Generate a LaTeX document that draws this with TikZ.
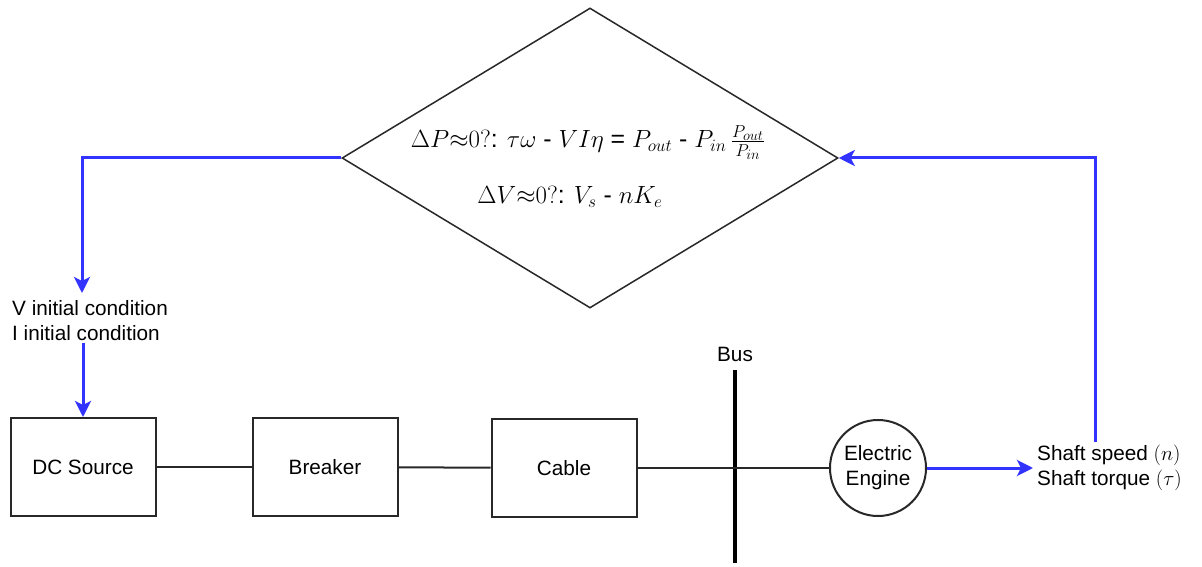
\documentclass[tikz,border=0pt]{standalone}
\usepackage[no-math]{fontspec}
\setmainfont{Liberation Sans}
\usetikzlibrary{shapes.geometric,arrows.meta}
\definecolor{flowblue}{RGB}{51,51,255}
\definecolor{edgegray}{RGB}{40,40,40}
\begin{document}
\begin{tikzpicture}[x=1pt,y=-1pt,
  blk/.style={draw=edgegray, line width=2pt, minimum width=145pt, minimum height=98pt, inner sep=0pt, font=\fontsize{20.74}{25}\selectfont},
  wire/.style={draw=edgegray, line width=2pt},
  flow/.style={draw=flowblue, line width=3pt, -{Stealth[length=16pt,width=16pt,inset=4pt]}},
  lbl/.style={font=\fontsize{20.74}{25}\selectfont, inner sep=0pt, align=left},
  eqn/.style={font=\fontsize{20.74}{26}\selectfont, inner sep=0pt, scale=1.2}]
\useasboundingbox (0,0) rectangle (1202,567);
\fill[white] (0,0) rectangle (1202,567);

% decision diamond
\node[draw=edgegray, line width=1.5pt, shape=diamond, minimum width=496pt, minimum height=300pt, inner sep=0pt] (dec) at (590,158) {};
\node[eqn] (eq1) at (588,143) {$\Delta P{\approx}0?$: $\tau\omega$ - $VI\eta$ = $P_{out}$ - $P_{in}\,\frac{P_{out}}{P_{in}}$};
\node[eqn] (eq2) at (570,197) {$\Delta V{\approx}0?$: $V_s$ - $nK_e$};

% left branch
\coordinate (lt) at (82,293);
\draw[flow] (dec.west) -| (lt);
\node[lbl, anchor=west] (init) at (12,321) {V initial condition\\I initial condition};

% chain
\node[blk] (dc) at (83,467) {DC Source};
\node[blk] (br) at (325,467) {Breaker};
\node[blk] (cab) at (564,468) {Cable};
\node[circle, draw=edgegray, line width=2pt, minimum size=96pt, inner sep=0pt, align=center, font=\fontsize{20.74}{25}\selectfont] (eng) at (878,468) {Electric\\Engine};

\draw[flow] ([yshift=-2pt]init.south -| dc.north) -- (dc.north);

% bus
\coordinate (bt) at (735,370);
\coordinate (bb) at (735,563);
\draw[black, line width=4pt] (bt) -- (bb);
\node[lbl] (bus) at (735,354) {Bus};

\draw[wire] (dc) -- (br);
\draw[wire] (br) -- (cab);
\draw[wire] (cab.east) -- (eng.west);

% shaft outputs
\node[lbl, anchor=west] (shaft) at (1037,468) {Shaft speed $(n)$\\Shaft torque $(\tau)$};
\draw[flow, shorten >=4pt] (eng.east) -- (shaft.west);
\coordinate (fb) at (1095,442);
\draw[flow] (fb) |- (dec.east);
\end{tikzpicture}
\end{document}
